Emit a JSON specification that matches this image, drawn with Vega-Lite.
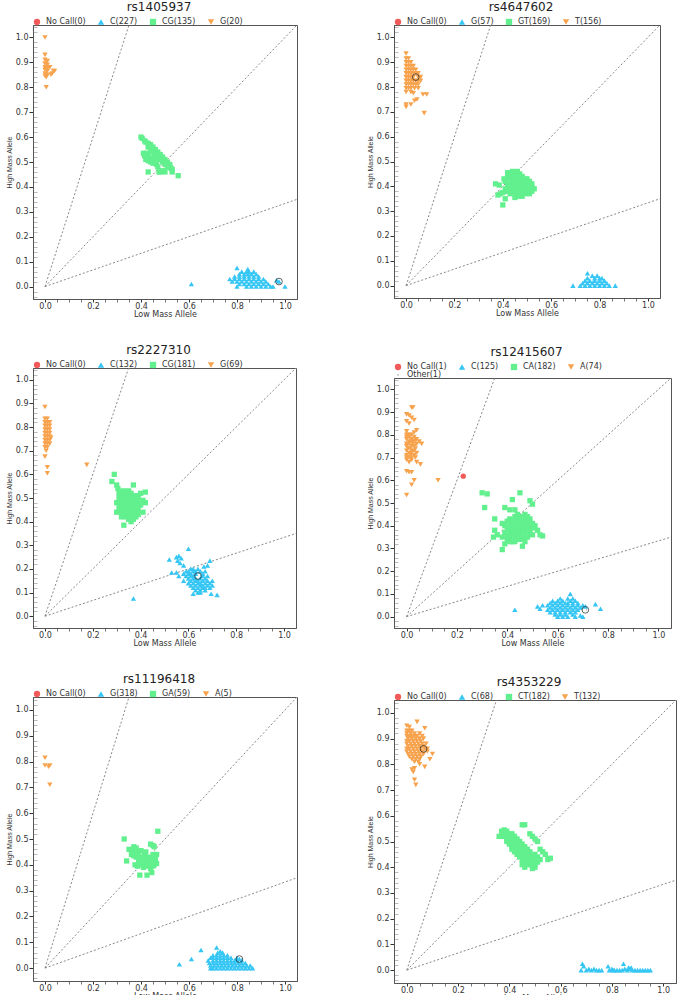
{
"$schema":"https://vega.github.io/schema/vega-lite/v6.json",
"padding":{"left":4,"top":0,"right":0,"bottom":0},
"config":{
 "font":"DejaVu Sans",
 "view":{"stroke":"#555","strokeWidth":1},
 "title":{"fontSize":12,"fontWeight":"normal","color":"#222","offset":0,"font":"DejaVu Sans","dx":-6},
 "axis":{"labelFont":"DejaVu Sans","labelFontSize":8,"labelColor":"#333","titleFont":"DejaVu Sans","titleFontSize":8,"titleFontWeight":"normal","titleColor":"#333","grid":false,"domainColor":"#555","labelOverlap":false,"labelPadding":1,"titlePadding":1,"labelFlush":false},
 "axisX":{"labelPadding":0,"titlePadding":0,"tickSize":3},
 "axisY":{"titleFont":"Liberation Sans","titleFontSize":7,"titlePadding":3},
 "legend":{"orient":"top","direction":"horizontal","labelFontSize":8,"labelColor":"#333","labelFont":"DejaVu Sans","offset":-1,"padding":0,"columnPadding":11,"symbolSize":40,"labelOffset":5,"symbolStrokeWidth":0}
},
"resolve":{"scale":{"color":"independent","shape":"independent"},"legend":{"color":"independent","shape":"independent"}},
"spacing":67,
"hconcat":[
{"spacing":24,"resolve":{"scale":{"color":"independent","shape":"independent"},"legend":{"color":"independent","shape":"independent"}},"vconcat":[
{"width":264,"height":274,"title":"rs1405937",
 "data":{"values":[
{"g":"G(20)","x":0,"y":1},{"g":"G(20)","x":0,"y":0.93},{"g":"G(20)","x":0,"y":0.91},{"g":"G(20)","x":0.01,"y":0.905},{"g":"G(20)","x":0,"y":0.895},{"g":"G(20)","x":0.01,"y":0.89},{"g":"G(20)","x":0,"y":0.88},{"g":"G(20)","x":0.01,"y":0.875},{"g":"G(20)","x":0.02,"y":0.88},{"g":"G(20)","x":0,"y":0.87},{"g":"G(20)","x":0.01,"y":0.865},{"g":"G(20)","x":0.035,"y":0.865},{"g":"G(20)","x":0.04,"y":0.865},{"g":"G(20)","x":0.03,"y":0.855},{"g":"G(20)","x":0.025,"y":0.85},{"g":"G(20)","x":0,"y":0.855},{"g":"G(20)","x":0.01,"y":0.85},{"g":"G(20)","x":0,"y":0.845},{"g":"G(20)","x":0.005,"y":0.84},{"g":"G(20)","x":0.005,"y":0.8},
{"g":"CG(135)","x":0.4,"y":0.6},{"g":"CG(135)","x":0.405,"y":0.595},{"g":"CG(135)","x":0.415,"y":0.585},{"g":"CG(135)","x":0.42,"y":0.58},{"g":"CG(135)","x":0.43,"y":0.575},{"g":"CG(135)","x":0.435,"y":0.565},{"g":"CG(135)","x":0.44,"y":0.56},{"g":"CG(135)","x":0.445,"y":0.555},{"g":"CG(135)","x":0.45,"y":0.55},{"g":"CG(135)","x":0.455,"y":0.545},{"g":"CG(135)","x":0.46,"y":0.54},{"g":"CG(135)","x":0.465,"y":0.535},{"g":"CG(135)","x":0.47,"y":0.53},{"g":"CG(135)","x":0.475,"y":0.525},{"g":"CG(135)","x":0.48,"y":0.52},{"g":"CG(135)","x":0.485,"y":0.515},{"g":"CG(135)","x":0.49,"y":0.51},{"g":"CG(135)","x":0.495,"y":0.505},{"g":"CG(135)","x":0.5,"y":0.5},{"g":"CG(135)","x":0.505,"y":0.495},{"g":"CG(135)","x":0.51,"y":0.49},{"g":"CG(135)","x":0.515,"y":0.485},{"g":"CG(135)","x":0.52,"y":0.48},{"g":"CG(135)","x":0.525,"y":0.475},{"g":"CG(135)","x":0.53,"y":0.47},
{"g":"CG(135)","x":0.44,"y":0.57},{"g":"CG(135)","x":0.45,"y":0.56},{"g":"CG(135)","x":0.46,"y":0.55},{"g":"CG(135)","x":0.47,"y":0.54},{"g":"CG(135)","x":0.48,"y":0.53},{"g":"CG(135)","x":0.49,"y":0.52},{"g":"CG(135)","x":0.5,"y":0.51},{"g":"CG(135)","x":0.51,"y":0.5},{"g":"CG(135)","x":0.52,"y":0.49},{"g":"CG(135)","x":0.43,"y":0.56},{"g":"CG(135)","x":0.44,"y":0.55},{"g":"CG(135)","x":0.45,"y":0.54},{"g":"CG(135)","x":0.46,"y":0.53},{"g":"CG(135)","x":0.47,"y":0.52},{"g":"CG(135)","x":0.48,"y":0.51},{"g":"CG(135)","x":0.49,"y":0.5},{"g":"CG(135)","x":0.5,"y":0.49},{"g":"CG(135)","x":0.51,"y":0.48},
{"g":"CG(135)","x":0.41,"y":0.535},{"g":"CG(135)","x":0.42,"y":0.535},{"g":"CG(135)","x":0.43,"y":0.53},{"g":"CG(135)","x":0.415,"y":0.525},{"g":"CG(135)","x":0.425,"y":0.52},{"g":"CG(135)","x":0.435,"y":0.515},{"g":"CG(135)","x":0.42,"y":0.51},{"g":"CG(135)","x":0.43,"y":0.505},{"g":"CG(135)","x":0.44,"y":0.5},{"g":"CG(135)","x":0.45,"y":0.505},{"g":"CG(135)","x":0.45,"y":0.495},{"g":"CG(135)","x":0.44,"y":0.515},{"g":"CG(135)","x":0.46,"y":0.51},{"g":"CG(135)","x":0.455,"y":0.52},
{"g":"CG(135)","x":0.43,"y":0.46},{"g":"CG(135)","x":0.47,"y":0.48},{"g":"CG(135)","x":0.475,"y":0.46},{"g":"CG(135)","x":0.48,"y":0.46},{"g":"CG(135)","x":0.49,"y":0.465},{"g":"CG(135)","x":0.5,"y":0.46},{"g":"CG(135)","x":0.53,"y":0.46},{"g":"CG(135)","x":0.555,"y":0.445},{"g":"CG(135)","x":0.465,"y":0.49},
{"g":"C(227)","x":0.8,"y":0},{"g":"C(227)","x":0.84,"y":0},{"g":"C(227)","x":0.86,"y":0},{"g":"C(227)","x":0.88,"y":0},{"g":"C(227)","x":0.9,"y":0},{"g":"C(227)","x":0.92,"y":0},{"g":"C(227)","x":0.94,"y":0},{"g":"C(227)","x":0.95,"y":0},
{"g":"C(227)","x":0.81,"y":0.01},{"g":"C(227)","x":0.83,"y":0.01},{"g":"C(227)","x":0.85,"y":0.01},{"g":"C(227)","x":0.87,"y":0.01},{"g":"C(227)","x":0.89,"y":0.01},{"g":"C(227)","x":0.91,"y":0.01},{"g":"C(227)","x":0.93,"y":0.01},
{"g":"C(227)","x":0.78,"y":0.02},{"g":"C(227)","x":0.8,"y":0.02},{"g":"C(227)","x":0.82,"y":0.02},{"g":"C(227)","x":0.84,"y":0.02},{"g":"C(227)","x":0.86,"y":0.02},{"g":"C(227)","x":0.88,"y":0.02},{"g":"C(227)","x":0.9,"y":0.02},{"g":"C(227)","x":0.92,"y":0.02},
{"g":"C(227)","x":0.77,"y":0.03},{"g":"C(227)","x":0.79,"y":0.03},{"g":"C(227)","x":0.81,"y":0.03},{"g":"C(227)","x":0.83,"y":0.03},{"g":"C(227)","x":0.85,"y":0.03},{"g":"C(227)","x":0.87,"y":0.03},{"g":"C(227)","x":0.89,"y":0.03},{"g":"C(227)","x":0.91,"y":0.03},
{"g":"C(227)","x":0.79,"y":0.04},{"g":"C(227)","x":0.81,"y":0.04},{"g":"C(227)","x":0.83,"y":0.04},{"g":"C(227)","x":0.85,"y":0.04},{"g":"C(227)","x":0.87,"y":0.04},{"g":"C(227)","x":0.89,"y":0.04},
{"g":"C(227)","x":0.81,"y":0.05},{"g":"C(227)","x":0.83,"y":0.05},{"g":"C(227)","x":0.845,"y":0.05},{"g":"C(227)","x":0.86,"y":0.05},{"g":"C(227)","x":0.88,"y":0.05},
{"g":"C(227)","x":0.82,"y":0.06},{"g":"C(227)","x":0.84,"y":0.06},{"g":"C(227)","x":0.85,"y":0.06},{"g":"C(227)","x":0.87,"y":0.06},
{"g":"C(227)","x":0.8,"y":0.075},{"g":"C(227)","x":0.845,"y":0.07},
{"g":"C(227)","x":0.61,"y":0.01},{"g":"C(227)","x":1,"y":0},{"g":"C(227)","x":0.975,"y":0.02},{"g":"C(227)","x":0.965,"y":0.025}
 ]},
 "encoding":{
  "x":{"field":"x","type":"quantitative","scale":{"domain":[-0.05,1.05],"nice":false,"zero":false},"axis":{"title":"Low Mass Allele","values":[0,0.05,0.1,0.15,0.2,0.25,0.3,0.35,0.4,0.45,0.5,0.55,0.6,0.65,0.7,0.75,0.8,0.85,0.9,0.95,1],"labelExpr":"abs(datum.value*5-round(datum.value*5))<0.001 ? format(datum.value,'.1f') : ''","tickColor":{"condition":{"test":"abs(datum.value*5-round(datum.value*5))<0.001","value":"#333"},"value":"#777"}}},
  "y":{"field":"y","type":"quantitative","scale":{"domain":[-0.05,1.05],"nice":false,"zero":false},"axis":{"title":"High Mass Allele","values":[-0.04,-0.02,0,0.02,0.04,0.06,0.08,0.1,0.12,0.14,0.16,0.18,0.2,0.22,0.24,0.26,0.28,0.3,0.32,0.34,0.36,0.38,0.4,0.42,0.44,0.46,0.48,0.5,0.52,0.54,0.56,0.58,0.6,0.62,0.64,0.66,0.68,0.7,0.72,0.74,0.76,0.78,0.8,0.82,0.84,0.86,0.88,0.9,0.92,0.94,0.96,0.98,1,1.02,1.04],"labelExpr":"abs(datum.value*10-round(datum.value*10))<0.001 ? format(datum.value,'.1f') : ''","tickColor":{"condition":{"test":"abs(datum.value*10-round(datum.value*10))<0.001","value":"#333"},"value":"#bbb"},"tickSize":{"condition":{"test":"abs(datum.value*10-round(datum.value*10))<0.001","value":4},"value":-4}}}
 },
 "layer":[
  {"data":{"values":[{"x":0,"y":0,"x2":0.35,"y2":1.05},{"x":0,"y":0,"x2":1.05,"y2":1.05},{"x":0,"y":0,"x2":1.05,"y2":0.35}]},"mark":{"type":"rule","color":"#888","strokeDash":[2,2],"strokeWidth":1},"encoding":{"x2":{"field":"x2"},"y2":{"field":"y2"}}},
  {"mark":{"type":"point","filled":true,"opacity":1,"size":28},"encoding":{
   "color":{"field":"g","type":"nominal","scale":{"domain":["No Call(0)","C(227)","CG(135)","G(20)"],"range":["#f25a5a","#35c6f4","#62f08e","#f7a24c"]},"legend":{"title":null}},
   "shape":{"field":"g","type":"nominal","scale":{"domain":["No Call(0)","C(227)","CG(135)","G(20)"],"range":["circle","triangle-up","square","triangle-down"]},"legend":{"title":null}}}},
  {"data":{"values":[{"x":0.975,"y":0.02}]},"mark":{"type":"point","shape":"circle","filled":false,"color":"#222","size":45,"strokeWidth":1}}
 ]},
{"width":263,"height":260,"title":"rs2227310",
 "data":{"values":[
{"g":"G(69)","x":0,"y":0.885},{"g":"G(69)","x":0,"y":0.835},{"g":"G(69)","x":0.01,"y":0.835},{"g":"G(69)","x":0,"y":0.82},{"g":"G(69)","x":0.01,"y":0.82},{"g":"G(69)","x":0.02,"y":0.82},{"g":"G(69)","x":0,"y":0.805},{"g":"G(69)","x":0.01,"y":0.805},{"g":"G(69)","x":0.02,"y":0.805},{"g":"G(69)","x":0,"y":0.79},{"g":"G(69)","x":0.01,"y":0.79},{"g":"G(69)","x":0.02,"y":0.79},{"g":"G(69)","x":0,"y":0.775},{"g":"G(69)","x":0.01,"y":0.775},{"g":"G(69)","x":0.02,"y":0.775},{"g":"G(69)","x":0,"y":0.76},{"g":"G(69)","x":0.01,"y":0.76},{"g":"G(69)","x":0.02,"y":0.76},{"g":"G(69)","x":0.025,"y":0.755},{"g":"G(69)","x":0,"y":0.745},{"g":"G(69)","x":0.01,"y":0.745},{"g":"G(69)","x":0.02,"y":0.745},{"g":"G(69)","x":0,"y":0.73},{"g":"G(69)","x":0.01,"y":0.73},{"g":"G(69)","x":0.02,"y":0.73},{"g":"G(69)","x":0,"y":0.715},{"g":"G(69)","x":0.01,"y":0.715},{"g":"G(69)","x":0.005,"y":0.7},{"g":"G(69)","x":0,"y":0.675},{"g":"G(69)","x":0.01,"y":0.63},{"g":"G(69)","x":0.01,"y":0.605},{"g":"G(69)","x":0.175,"y":0.64},
{"g":"CG(181)","x":0.29,"y":0.6},{"g":"CG(181)","x":0.28,"y":0.57},{"g":"CG(181)","x":0.3,"y":0.555},{"g":"CG(181)","x":0.37,"y":0.555},{"g":"CG(181)","x":0.305,"y":0.54},
{"g":"CG(181)","x":0.31,"y":0.53},{"g":"CG(181)","x":0.33,"y":0.53},{"g":"CG(181)","x":0.35,"y":0.53},
{"g":"CG(181)","x":0.32,"y":0.52},{"g":"CG(181)","x":0.34,"y":0.52},{"g":"CG(181)","x":0.36,"y":0.52},{"g":"CG(181)","x":0.4,"y":0.52},{"g":"CG(181)","x":0.42,"y":0.525},
{"g":"CG(181)","x":0.31,"y":0.51},{"g":"CG(181)","x":0.33,"y":0.51},{"g":"CG(181)","x":0.35,"y":0.51},{"g":"CG(181)","x":0.37,"y":0.51},{"g":"CG(181)","x":0.39,"y":0.51},
{"g":"CG(181)","x":0.32,"y":0.5},{"g":"CG(181)","x":0.34,"y":0.5},{"g":"CG(181)","x":0.36,"y":0.5},{"g":"CG(181)","x":0.38,"y":0.5},
{"g":"CG(181)","x":0.31,"y":0.49},{"g":"CG(181)","x":0.33,"y":0.49},{"g":"CG(181)","x":0.35,"y":0.49},{"g":"CG(181)","x":0.37,"y":0.49},{"g":"CG(181)","x":0.39,"y":0.49},{"g":"CG(181)","x":0.41,"y":0.49},
{"g":"CG(181)","x":0.3,"y":0.48},{"g":"CG(181)","x":0.32,"y":0.48},{"g":"CG(181)","x":0.34,"y":0.48},{"g":"CG(181)","x":0.36,"y":0.48},{"g":"CG(181)","x":0.38,"y":0.48},{"g":"CG(181)","x":0.42,"y":0.48},
{"g":"CG(181)","x":0.31,"y":0.47},{"g":"CG(181)","x":0.33,"y":0.47},{"g":"CG(181)","x":0.35,"y":0.47},{"g":"CG(181)","x":0.37,"y":0.47},{"g":"CG(181)","x":0.4,"y":0.47},
{"g":"CG(181)","x":0.32,"y":0.46},{"g":"CG(181)","x":0.34,"y":0.46},{"g":"CG(181)","x":0.36,"y":0.46},{"g":"CG(181)","x":0.38,"y":0.46},
{"g":"CG(181)","x":0.31,"y":0.45},{"g":"CG(181)","x":0.33,"y":0.45},{"g":"CG(181)","x":0.35,"y":0.45},{"g":"CG(181)","x":0.37,"y":0.45},{"g":"CG(181)","x":0.39,"y":0.45},
{"g":"CG(181)","x":0.3,"y":0.44},{"g":"CG(181)","x":0.32,"y":0.44},{"g":"CG(181)","x":0.34,"y":0.44},{"g":"CG(181)","x":0.36,"y":0.44},{"g":"CG(181)","x":0.38,"y":0.44},{"g":"CG(181)","x":0.41,"y":0.44},
{"g":"CG(181)","x":0.33,"y":0.43},{"g":"CG(181)","x":0.35,"y":0.43},{"g":"CG(181)","x":0.37,"y":0.43},{"g":"CG(181)","x":0.39,"y":0.43},
{"g":"CG(181)","x":0.32,"y":0.42},{"g":"CG(181)","x":0.34,"y":0.42},{"g":"CG(181)","x":0.36,"y":0.42},{"g":"CG(181)","x":0.38,"y":0.42},
{"g":"CG(181)","x":0.35,"y":0.41},{"g":"CG(181)","x":0.37,"y":0.41},{"g":"CG(181)","x":0.36,"y":0.4},{"g":"CG(181)","x":0.33,"y":0.385},
{"g":"C(132)","x":0.6,"y":0.285},{"g":"C(132)","x":0.52,"y":0.24},{"g":"C(132)","x":0.55,"y":0.25},{"g":"C(132)","x":0.56,"y":0.255},{"g":"C(132)","x":0.57,"y":0.245},{"g":"C(132)","x":0.555,"y":0.235},{"g":"C(132)","x":0.565,"y":0.225},{"g":"C(132)","x":0.58,"y":0.215},{"g":"C(132)","x":0.53,"y":0.185},{"g":"C(132)","x":0.55,"y":0.185},{"g":"C(132)","x":0.56,"y":0.17},{"g":"C(132)","x":0.69,"y":0.235},{"g":"C(132)","x":0.68,"y":0.215},{"g":"C(132)","x":0.665,"y":0.21},{"g":"C(132)","x":0.37,"y":0.075},{"g":"C(132)","x":0.72,"y":0.09},{"g":"C(132)","x":0.695,"y":0.095},{"g":"C(132)","x":0.62,"y":0.095},{"g":"C(132)","x":0.65,"y":0.1},
{"g":"C(132)","x":0.61,"y":0.2},{"g":"C(132)","x":0.62,"y":0.2},{"g":"C(132)","x":0.64,"y":0.2},
{"g":"C(132)","x":0.59,"y":0.19},{"g":"C(132)","x":0.6,"y":0.19},{"g":"C(132)","x":0.62,"y":0.19},{"g":"C(132)","x":0.63,"y":0.19},{"g":"C(132)","x":0.65,"y":0.19},{"g":"C(132)","x":0.67,"y":0.19},
{"g":"C(132)","x":0.58,"y":0.18},{"g":"C(132)","x":0.6,"y":0.18},{"g":"C(132)","x":0.61,"y":0.18},{"g":"C(132)","x":0.63,"y":0.18},{"g":"C(132)","x":0.66,"y":0.18},
{"g":"C(132)","x":0.59,"y":0.17},{"g":"C(132)","x":0.61,"y":0.17},{"g":"C(132)","x":0.62,"y":0.17},{"g":"C(132)","x":0.66,"y":0.17},{"g":"C(132)","x":0.68,"y":0.17},
{"g":"C(132)","x":0.6,"y":0.16},{"g":"C(132)","x":0.62,"y":0.16},{"g":"C(132)","x":0.63,"y":0.16},{"g":"C(132)","x":0.65,"y":0.16},{"g":"C(132)","x":0.67,"y":0.16},
{"g":"C(132)","x":0.58,"y":0.15},{"g":"C(132)","x":0.61,"y":0.15},{"g":"C(132)","x":0.63,"y":0.15},{"g":"C(132)","x":0.64,"y":0.15},{"g":"C(132)","x":0.66,"y":0.15},{"g":"C(132)","x":0.68,"y":0.15},{"g":"C(132)","x":0.7,"y":0.15},
{"g":"C(132)","x":0.6,"y":0.14},{"g":"C(132)","x":0.62,"y":0.14},{"g":"C(132)","x":0.64,"y":0.14},{"g":"C(132)","x":0.65,"y":0.14},{"g":"C(132)","x":0.67,"y":0.14},{"g":"C(132)","x":0.69,"y":0.14},
{"g":"C(132)","x":0.61,"y":0.13},{"g":"C(132)","x":0.63,"y":0.13},{"g":"C(132)","x":0.65,"y":0.13},{"g":"C(132)","x":0.66,"y":0.13},{"g":"C(132)","x":0.68,"y":0.13},{"g":"C(132)","x":0.7,"y":0.13},
{"g":"C(132)","x":0.62,"y":0.12},{"g":"C(132)","x":0.64,"y":0.12},{"g":"C(132)","x":0.66,"y":0.12},{"g":"C(132)","x":0.67,"y":0.12},{"g":"C(132)","x":0.69,"y":0.12},
{"g":"C(132)","x":0.63,"y":0.11},{"g":"C(132)","x":0.65,"y":0.11},{"g":"C(132)","x":0.67,"y":0.11},{"g":"C(132)","x":0.64,"y":0.1}
 ]},
 "encoding":{
  "x":{"field":"x","type":"quantitative","scale":{"domain":[-0.05,1.05],"nice":false,"zero":false},"axis":{"title":"Low Mass Allele","values":[0,0.05,0.1,0.15,0.2,0.25,0.3,0.35,0.4,0.45,0.5,0.55,0.6,0.65,0.7,0.75,0.8,0.85,0.9,0.95,1],"labelExpr":"abs(datum.value*5-round(datum.value*5))<0.001 ? format(datum.value,'.1f') : ''","tickColor":{"condition":{"test":"abs(datum.value*5-round(datum.value*5))<0.001","value":"#333"},"value":"#777"}}},
  "y":{"field":"y","type":"quantitative","scale":{"domain":[-0.05,1.05],"nice":false,"zero":false},"axis":{"title":"High Mass Allele","values":[-0.04,-0.02,0,0.02,0.04,0.06,0.08,0.1,0.12,0.14,0.16,0.18,0.2,0.22,0.24,0.26,0.28,0.3,0.32,0.34,0.36,0.38,0.4,0.42,0.44,0.46,0.48,0.5,0.52,0.54,0.56,0.58,0.6,0.62,0.64,0.66,0.68,0.7,0.72,0.74,0.76,0.78,0.8,0.82,0.84,0.86,0.88,0.9,0.92,0.94,0.96,0.98,1,1.02,1.04],"labelExpr":"abs(datum.value*10-round(datum.value*10))<0.001 ? format(datum.value,'.1f') : ''","tickColor":{"condition":{"test":"abs(datum.value*10-round(datum.value*10))<0.001","value":"#333"},"value":"#bbb"},"tickSize":{"condition":{"test":"abs(datum.value*10-round(datum.value*10))<0.001","value":4},"value":-4}}}
 },
 "layer":[
  {"data":{"values":[{"x":0,"y":0,"x2":0.35,"y2":1.05},{"x":0,"y":0,"x2":1.05,"y2":1.05},{"x":0,"y":0,"x2":1.05,"y2":0.35}]},"mark":{"type":"rule","color":"#888","strokeDash":[2,2],"strokeWidth":1},"encoding":{"x2":{"field":"x2"},"y2":{"field":"y2"}}},
  {"mark":{"type":"point","filled":true,"opacity":1,"size":28},"encoding":{
   "color":{"field":"g","type":"nominal","scale":{"domain":["No Call(0)","C(132)","CG(181)","G(69)"],"range":["#f25a5a","#35c6f4","#62f08e","#f7a24c"]},"legend":{"title":null}},
   "shape":{"field":"g","type":"nominal","scale":{"domain":["No Call(0)","C(132)","CG(181)","G(69)"],"range":["circle","triangle-up","square","triangle-down"]},"legend":{"title":null}}}},
  {"data":{"values":[{"x":0.64,"y":0.17}]},"mark":{"type":"point","shape":"circle","filled":false,"color":"#222","size":45,"strokeWidth":1}}
 ]},
{"width":264,"height":284,"title":"rs11196418",
 "data":{"values":[
{"g":"A(5)","x":0,"y":0.815},{"g":"A(5)","x":0,"y":0.785},{"g":"A(5)","x":0.015,"y":0.78},{"g":"A(5)","x":0.02,"y":0.785},{"g":"A(5)","x":0.02,"y":0.71},
{"g":"GA(59)","x":0.33,"y":0.5},{"g":"GA(59)","x":0.47,"y":0.53},{"g":"GA(59)","x":0.35,"y":0.46},{"g":"GA(59)","x":0.37,"y":0.47},{"g":"GA(59)","x":0.38,"y":0.465},{"g":"GA(59)","x":0.38,"y":0.455},{"g":"GA(59)","x":0.39,"y":0.45},{"g":"GA(59)","x":0.4,"y":0.455},{"g":"GA(59)","x":0.415,"y":0.44},{"g":"GA(59)","x":0.44,"y":0.48},{"g":"GA(59)","x":0.45,"y":0.475},{"g":"GA(59)","x":0.455,"y":0.47},{"g":"GA(59)","x":0.45,"y":0.44},{"g":"GA(59)","x":0.465,"y":0.44},{"g":"GA(59)","x":0.36,"y":0.44},{"g":"GA(59)","x":0.37,"y":0.435},{"g":"GA(59)","x":0.38,"y":0.43},{"g":"GA(59)","x":0.39,"y":0.43},{"g":"GA(59)","x":0.4,"y":0.42},{"g":"GA(59)","x":0.41,"y":0.43},{"g":"GA(59)","x":0.42,"y":0.42},{"g":"GA(59)","x":0.43,"y":0.415},{"g":"GA(59)","x":0.44,"y":0.42},{"g":"GA(59)","x":0.45,"y":0.41},{"g":"GA(59)","x":0.46,"y":0.42},{"g":"GA(59)","x":0.34,"y":0.415},{"g":"GA(59)","x":0.375,"y":0.4},{"g":"GA(59)","x":0.385,"y":0.395},{"g":"GA(59)","x":0.4,"y":0.4},{"g":"GA(59)","x":0.41,"y":0.39},{"g":"GA(59)","x":0.42,"y":0.4},{"g":"GA(59)","x":0.43,"y":0.395},{"g":"GA(59)","x":0.44,"y":0.385},{"g":"GA(59)","x":0.45,"y":0.395},{"g":"GA(59)","x":0.455,"y":0.4},{"g":"GA(59)","x":0.395,"y":0.36},{"g":"GA(59)","x":0.425,"y":0.36},{"g":"GA(59)","x":0.445,"y":0.37},{"g":"GA(59)","x":0.4,"y":0.41},{"g":"GA(59)","x":0.39,"y":0.415},{"g":"GA(59)","x":0.43,"y":0.43},{"g":"GA(59)","x":0.42,"y":0.45},{"g":"GA(59)","x":0.365,"y":0.455},{"g":"GA(59)","x":0.385,"y":0.44},{"g":"GA(59)","x":0.41,"y":0.405},{"g":"GA(59)","x":0.435,"y":0.405},{"g":"GA(59)","x":0.465,"y":0.405},
{"g":"G(318)","x":0.56,"y":0.015},{"g":"G(318)","x":0.61,"y":0.035},{"g":"G(318)","x":0.65,"y":0.07},{"g":"G(318)","x":0.715,"y":0.08},{"g":"G(318)","x":0.69,"y":0},
{"g":"G(318)","x":0.72,"y":0.06},{"g":"G(318)","x":0.73,"y":0.065},{"g":"G(318)","x":0.74,"y":0.06},
{"g":"G(318)","x":0.7,"y":0.05},{"g":"G(318)","x":0.715,"y":0.05},{"g":"G(318)","x":0.73,"y":0.05},{"g":"G(318)","x":0.745,"y":0.05},{"g":"G(318)","x":0.76,"y":0.05},
{"g":"G(318)","x":0.69,"y":0.04},{"g":"G(318)","x":0.7,"y":0.04},{"g":"G(318)","x":0.715,"y":0.04},{"g":"G(318)","x":0.73,"y":0.04},{"g":"G(318)","x":0.745,"y":0.04},{"g":"G(318)","x":0.76,"y":0.04},{"g":"G(318)","x":0.775,"y":0.04},{"g":"G(318)","x":0.8,"y":0.04},
{"g":"G(318)","x":0.68,"y":0.03},{"g":"G(318)","x":0.7,"y":0.03},{"g":"G(318)","x":0.715,"y":0.03},{"g":"G(318)","x":0.73,"y":0.03},{"g":"G(318)","x":0.745,"y":0.03},{"g":"G(318)","x":0.76,"y":0.03},{"g":"G(318)","x":0.775,"y":0.03},{"g":"G(318)","x":0.79,"y":0.03},{"g":"G(318)","x":0.8,"y":0.03},{"g":"G(318)","x":0.82,"y":0.03},
{"g":"G(318)","x":0.685,"y":0.02},{"g":"G(318)","x":0.7,"y":0.02},{"g":"G(318)","x":0.715,"y":0.02},{"g":"G(318)","x":0.73,"y":0.02},{"g":"G(318)","x":0.745,"y":0.02},{"g":"G(318)","x":0.76,"y":0.02},{"g":"G(318)","x":0.775,"y":0.02},{"g":"G(318)","x":0.79,"y":0.02},{"g":"G(318)","x":0.805,"y":0.02},{"g":"G(318)","x":0.82,"y":0.02},{"g":"G(318)","x":0.835,"y":0.02},
{"g":"G(318)","x":0.69,"y":0.01},{"g":"G(318)","x":0.705,"y":0.01},{"g":"G(318)","x":0.72,"y":0.01},{"g":"G(318)","x":0.735,"y":0.01},{"g":"G(318)","x":0.75,"y":0.01},{"g":"G(318)","x":0.765,"y":0.01},{"g":"G(318)","x":0.78,"y":0.01},{"g":"G(318)","x":0.795,"y":0.01},{"g":"G(318)","x":0.81,"y":0.01},{"g":"G(318)","x":0.825,"y":0.01},{"g":"G(318)","x":0.84,"y":0.01},{"g":"G(318)","x":0.855,"y":0.01},
{"g":"G(318)","x":0.7,"y":0},{"g":"G(318)","x":0.715,"y":0},{"g":"G(318)","x":0.73,"y":0},{"g":"G(318)","x":0.745,"y":0},{"g":"G(318)","x":0.76,"y":0},{"g":"G(318)","x":0.775,"y":0},{"g":"G(318)","x":0.79,"y":0},{"g":"G(318)","x":0.805,"y":0},{"g":"G(318)","x":0.82,"y":0},{"g":"G(318)","x":0.835,"y":0},{"g":"G(318)","x":0.85,"y":0},{"g":"G(318)","x":0.865,"y":0},{"g":"G(318)","x":0.81,"y":0.035}
 ]},
 "encoding":{
  "x":{"field":"x","type":"quantitative","scale":{"domain":[-0.05,1.05],"nice":false,"zero":false},"axis":{"title":"Low Mass Allele","values":[0,0.05,0.1,0.15,0.2,0.25,0.3,0.35,0.4,0.45,0.5,0.55,0.6,0.65,0.7,0.75,0.8,0.85,0.9,0.95,1],"labelExpr":"abs(datum.value*5-round(datum.value*5))<0.001 ? format(datum.value,'.1f') : ''","tickColor":{"condition":{"test":"abs(datum.value*5-round(datum.value*5))<0.001","value":"#333"},"value":"#777"}}},
  "y":{"field":"y","type":"quantitative","scale":{"domain":[-0.05,1.05],"nice":false,"zero":false},"axis":{"title":"High Mass Allele","values":[-0.04,-0.02,0,0.02,0.04,0.06,0.08,0.1,0.12,0.14,0.16,0.18,0.2,0.22,0.24,0.26,0.28,0.3,0.32,0.34,0.36,0.38,0.4,0.42,0.44,0.46,0.48,0.5,0.52,0.54,0.56,0.58,0.6,0.62,0.64,0.66,0.68,0.7,0.72,0.74,0.76,0.78,0.8,0.82,0.84,0.86,0.88,0.9,0.92,0.94,0.96,0.98,1,1.02,1.04],"labelExpr":"abs(datum.value*10-round(datum.value*10))<0.001 ? format(datum.value,'.1f') : ''","tickColor":{"condition":{"test":"abs(datum.value*10-round(datum.value*10))<0.001","value":"#333"},"value":"#bbb"},"tickSize":{"condition":{"test":"abs(datum.value*10-round(datum.value*10))<0.001","value":4},"value":-4}}}
 },
 "layer":[
  {"data":{"values":[{"x":0,"y":0,"x2":0.35,"y2":1.05},{"x":0,"y":0,"x2":1.05,"y2":1.05},{"x":0,"y":0,"x2":1.05,"y2":0.35}]},"mark":{"type":"rule","color":"#888","strokeDash":[2,2],"strokeWidth":1},"encoding":{"x2":{"field":"x2"},"y2":{"field":"y2"}}},
  {"mark":{"type":"point","filled":true,"opacity":1,"size":28},"encoding":{
   "color":{"field":"g","type":"nominal","scale":{"domain":["No Call(0)","G(318)","GA(59)","A(5)"],"range":["#f25a5a","#35c6f4","#62f08e","#f7a24c"]},"legend":{"title":null}},
   "shape":{"field":"g","type":"nominal","scale":{"domain":["No Call(0)","G(318)","GA(59)","A(5)"],"range":["circle","triangle-up","square","triangle-down"]},"legend":{"title":null}}}},
  {"data":{"values":[{"x":0.81,"y":0.035}]},"mark":{"type":"point","shape":"circle","filled":false,"color":"#222","size":45,"strokeWidth":1}}
 ]}
]},
{"spacing":27,"resolve":{"scale":{"color":"independent","shape":"independent"},"legend":{"color":"independent","shape":"independent"}},"vconcat":[
{"width":266,"height":273,"title":"rs4647602",
 "data":{"values":[
{"g":"T(156)","x":0,"y":0.935},{"g":"T(156)","x":0,"y":0.915},{"g":"T(156)","x":0.01,"y":0.915},{"g":"T(156)","x":0,"y":0.9},{"g":"T(156)","x":0.01,"y":0.9},{"g":"T(156)","x":0.02,"y":0.9},{"g":"T(156)","x":0,"y":0.885},{"g":"T(156)","x":0.01,"y":0.885},{"g":"T(156)","x":0.02,"y":0.885},{"g":"T(156)","x":0.03,"y":0.885},
{"g":"T(156)","x":0,"y":0.87},{"g":"T(156)","x":0.01,"y":0.87},{"g":"T(156)","x":0.02,"y":0.87},{"g":"T(156)","x":0.03,"y":0.87},{"g":"T(156)","x":0.04,"y":0.87},
{"g":"T(156)","x":0,"y":0.855},{"g":"T(156)","x":0.01,"y":0.855},{"g":"T(156)","x":0.02,"y":0.855},{"g":"T(156)","x":0.03,"y":0.855},{"g":"T(156)","x":0.04,"y":0.855},{"g":"T(156)","x":0.05,"y":0.855},
{"g":"T(156)","x":0,"y":0.84},{"g":"T(156)","x":0.01,"y":0.84},{"g":"T(156)","x":0.02,"y":0.84},{"g":"T(156)","x":0.03,"y":0.84},{"g":"T(156)","x":0.05,"y":0.84},{"g":"T(156)","x":0.06,"y":0.84},
{"g":"T(156)","x":0,"y":0.825},{"g":"T(156)","x":0.01,"y":0.825},{"g":"T(156)","x":0.02,"y":0.825},{"g":"T(156)","x":0.03,"y":0.825},{"g":"T(156)","x":0.04,"y":0.825},{"g":"T(156)","x":0.05,"y":0.825},{"g":"T(156)","x":0.06,"y":0.825},
{"g":"T(156)","x":0,"y":0.81},{"g":"T(156)","x":0.01,"y":0.81},{"g":"T(156)","x":0.02,"y":0.81},{"g":"T(156)","x":0.03,"y":0.81},{"g":"T(156)","x":0.04,"y":0.81},{"g":"T(156)","x":0.05,"y":0.81},
{"g":"T(156)","x":0,"y":0.795},{"g":"T(156)","x":0.01,"y":0.795},{"g":"T(156)","x":0.02,"y":0.795},{"g":"T(156)","x":0.035,"y":0.795},{"g":"T(156)","x":0.05,"y":0.795},
{"g":"T(156)","x":0,"y":0.78},{"g":"T(156)","x":0.02,"y":0.78},{"g":"T(156)","x":0.03,"y":0.775},
{"g":"T(156)","x":0.07,"y":0.77},{"g":"T(156)","x":0.085,"y":0.77},{"g":"T(156)","x":0,"y":0.72},{"g":"T(156)","x":0,"y":0.73},{"g":"T(156)","x":0.02,"y":0.73},{"g":"T(156)","x":0.035,"y":0.745},{"g":"T(156)","x":0.045,"y":0.75},{"g":"T(156)","x":0.075,"y":0.695},
{"g":"GT(169)","x":0.44,"y":0.46},{"g":"GT(169)","x":0.46,"y":0.46},{"g":"GT(169)","x":0.43,"y":0.45},{"g":"GT(169)","x":0.45,"y":0.45},{"g":"GT(169)","x":0.47,"y":0.45},
{"g":"GT(169)","x":0.42,"y":0.44},{"g":"GT(169)","x":0.44,"y":0.44},{"g":"GT(169)","x":0.46,"y":0.44},{"g":"GT(169)","x":0.48,"y":0.44},
{"g":"GT(169)","x":0.43,"y":0.43},{"g":"GT(169)","x":0.45,"y":0.43},{"g":"GT(169)","x":0.47,"y":0.43},{"g":"GT(169)","x":0.49,"y":0.43},{"g":"GT(169)","x":0.5,"y":0.43},
{"g":"GT(169)","x":0.41,"y":0.42},{"g":"GT(169)","x":0.44,"y":0.42},{"g":"GT(169)","x":0.46,"y":0.42},{"g":"GT(169)","x":0.48,"y":0.42},{"g":"GT(169)","x":0.5,"y":0.42},{"g":"GT(169)","x":0.51,"y":0.42},
{"g":"GT(169)","x":0.43,"y":0.41},{"g":"GT(169)","x":0.45,"y":0.41},{"g":"GT(169)","x":0.47,"y":0.41},{"g":"GT(169)","x":0.49,"y":0.41},{"g":"GT(169)","x":0.51,"y":0.41},{"g":"GT(169)","x":0.52,"y":0.41},
{"g":"GT(169)","x":0.42,"y":0.4},{"g":"GT(169)","x":0.44,"y":0.4},{"g":"GT(169)","x":0.46,"y":0.4},{"g":"GT(169)","x":0.48,"y":0.4},{"g":"GT(169)","x":0.5,"y":0.4},{"g":"GT(169)","x":0.52,"y":0.4},
{"g":"GT(169)","x":0.41,"y":0.39},{"g":"GT(169)","x":0.43,"y":0.39},{"g":"GT(169)","x":0.45,"y":0.39},{"g":"GT(169)","x":0.47,"y":0.39},{"g":"GT(169)","x":0.49,"y":0.39},{"g":"GT(169)","x":0.51,"y":0.39},{"g":"GT(169)","x":0.53,"y":0.39},
{"g":"GT(169)","x":0.42,"y":0.38},{"g":"GT(169)","x":0.44,"y":0.38},{"g":"GT(169)","x":0.46,"y":0.38},{"g":"GT(169)","x":0.48,"y":0.38},{"g":"GT(169)","x":0.5,"y":0.38},{"g":"GT(169)","x":0.52,"y":0.38},
{"g":"GT(169)","x":0.43,"y":0.37},{"g":"GT(169)","x":0.45,"y":0.37},{"g":"GT(169)","x":0.47,"y":0.37},{"g":"GT(169)","x":0.49,"y":0.37},{"g":"GT(169)","x":0.51,"y":0.37},
{"g":"GT(169)","x":0.46,"y":0.36},{"g":"GT(169)","x":0.48,"y":0.36},
{"g":"GT(169)","x":0.37,"y":0.41},{"g":"GT(169)","x":0.385,"y":0.405},{"g":"GT(169)","x":0.39,"y":0.37},{"g":"GT(169)","x":0.4,"y":0.375},{"g":"GT(169)","x":0.38,"y":0.365},{"g":"GT(169)","x":0.41,"y":0.35},{"g":"GT(169)","x":0.4,"y":0.325},{"g":"GT(169)","x":0.45,"y":0.355},{"g":"GT(169)","x":0.405,"y":0.43},{"g":"GT(169)","x":0.42,"y":0.455},
{"g":"G(57)","x":0.69,"y":0},{"g":"G(57)","x":0.72,"y":0},{"g":"G(57)","x":0.74,"y":0},{"g":"G(57)","x":0.76,"y":0},{"g":"G(57)","x":0.78,"y":0},{"g":"G(57)","x":0.8,"y":0},{"g":"G(57)","x":0.82,"y":0},{"g":"G(57)","x":0.84,"y":0},{"g":"G(57)","x":0.865,"y":0},
{"g":"G(57)","x":0.73,"y":0.01},{"g":"G(57)","x":0.75,"y":0.01},{"g":"G(57)","x":0.77,"y":0.01},{"g":"G(57)","x":0.79,"y":0.01},{"g":"G(57)","x":0.81,"y":0.01},{"g":"G(57)","x":0.83,"y":0.01},
{"g":"G(57)","x":0.74,"y":0.02},{"g":"G(57)","x":0.76,"y":0.02},{"g":"G(57)","x":0.78,"y":0.02},{"g":"G(57)","x":0.8,"y":0.02},{"g":"G(57)","x":0.82,"y":0.02},
{"g":"G(57)","x":0.75,"y":0.03},{"g":"G(57)","x":0.78,"y":0.03},{"g":"G(57)","x":0.8,"y":0.03},{"g":"G(57)","x":0.81,"y":0.03},{"g":"G(57)","x":0.77,"y":0.04},{"g":"G(57)","x":0.79,"y":0.04},{"g":"G(57)","x":0.75,"y":0.05}
 ]},
 "encoding":{
  "x":{"field":"x","type":"quantitative","scale":{"domain":[-0.05,1.05],"nice":false,"zero":false},"axis":{"title":"Low Mass Allele","values":[0,0.05,0.1,0.15,0.2,0.25,0.3,0.35,0.4,0.45,0.5,0.55,0.6,0.65,0.7,0.75,0.8,0.85,0.9,0.95,1],"labelExpr":"abs(datum.value*5-round(datum.value*5))<0.001 ? format(datum.value,'.1f') : ''","tickColor":{"condition":{"test":"abs(datum.value*5-round(datum.value*5))<0.001","value":"#333"},"value":"#777"}}},
  "y":{"field":"y","type":"quantitative","scale":{"domain":[-0.05,1.05],"nice":false,"zero":false},"axis":{"title":"High Mass Allele","values":[-0.04,-0.02,0,0.02,0.04,0.06,0.08,0.1,0.12,0.14,0.16,0.18,0.2,0.22,0.24,0.26,0.28,0.3,0.32,0.34,0.36,0.38,0.4,0.42,0.44,0.46,0.48,0.5,0.52,0.54,0.56,0.58,0.6,0.62,0.64,0.66,0.68,0.7,0.72,0.74,0.76,0.78,0.8,0.82,0.84,0.86,0.88,0.9,0.92,0.94,0.96,0.98,1,1.02,1.04],"labelExpr":"abs(datum.value*10-round(datum.value*10))<0.001 ? format(datum.value,'.1f') : ''","tickColor":{"condition":{"test":"abs(datum.value*10-round(datum.value*10))<0.001","value":"#333"},"value":"#bbb"},"tickSize":{"condition":{"test":"abs(datum.value*10-round(datum.value*10))<0.001","value":4},"value":-4}}}
 },
 "layer":[
  {"data":{"values":[{"x":0,"y":0,"x2":0.35,"y2":1.05},{"x":0,"y":0,"x2":1.05,"y2":1.05},{"x":0,"y":0,"x2":1.05,"y2":0.35}]},"mark":{"type":"rule","color":"#888","strokeDash":[2,2],"strokeWidth":1},"encoding":{"x2":{"field":"x2"},"y2":{"field":"y2"}}},
  {"mark":{"type":"point","filled":true,"opacity":1,"size":28},"encoding":{
   "color":{"field":"g","type":"nominal","scale":{"domain":["No Call(0)","G(57)","GT(169)","T(156)"],"range":["#f25a5a","#35c6f4","#62f08e","#f7a24c"]},"legend":{"title":null}},
   "shape":{"field":"g","type":"nominal","scale":{"domain":["No Call(0)","G(57)","GT(169)","T(156)"],"range":["circle","triangle-up","square","triangle-down"]},"legend":{"title":null}}}},
  {"data":{"values":[{"x":0.04,"y":0.84}]},"mark":{"type":"point","shape":"circle","filled":false,"color":"#222","size":45,"strokeWidth":1}}
 ]},
{"width":277,"height":250,"title":"rs12415607",
 "data":{"values":[
{"g":"A(74)","x":0.02,"y":0.92},{"g":"A(74)","x":0.025,"y":0.92},{"g":"A(74)","x":0,"y":0.89},{"g":"A(74)","x":0.01,"y":0.885},{"g":"A(74)","x":0.02,"y":0.875},{"g":"A(74)","x":0.03,"y":0.865},{"g":"A(74)","x":0,"y":0.86},{"g":"A(74)","x":0.01,"y":0.85},{"g":"A(74)","x":0,"y":0.815},{"g":"A(74)","x":0.04,"y":0.82},{"g":"A(74)","x":0.03,"y":0.81},{"g":"A(74)","x":0.05,"y":0.77},{"g":"A(74)","x":0.06,"y":0.76},{"g":"A(74)","x":0.035,"y":0.78},
{"g":"A(74)","x":0,"y":0.8},{"g":"A(74)","x":0.01,"y":0.8},{"g":"A(74)","x":0.02,"y":0.8},{"g":"A(74)","x":0,"y":0.79},{"g":"A(74)","x":0.01,"y":0.79},{"g":"A(74)","x":0.03,"y":0.79},{"g":"A(74)","x":0,"y":0.78},{"g":"A(74)","x":0.02,"y":0.78},{"g":"A(74)","x":0.04,"y":0.78},{"g":"A(74)","x":0.01,"y":0.77},{"g":"A(74)","x":0.02,"y":0.77},{"g":"A(74)","x":0.03,"y":0.77},{"g":"A(74)","x":0,"y":0.76},{"g":"A(74)","x":0.01,"y":0.76},{"g":"A(74)","x":0.025,"y":0.76},{"g":"A(74)","x":0.04,"y":0.76},{"g":"A(74)","x":0,"y":0.75},{"g":"A(74)","x":0.02,"y":0.75},{"g":"A(74)","x":0.03,"y":0.75},{"g":"A(74)","x":0.005,"y":0.74},{"g":"A(74)","x":0.015,"y":0.74},{"g":"A(74)","x":0.035,"y":0.74},{"g":"A(74)","x":0,"y":0.73},{"g":"A(74)","x":0.02,"y":0.73},{"g":"A(74)","x":0.03,"y":0.73},{"g":"A(74)","x":0.01,"y":0.72},{"g":"A(74)","x":0.02,"y":0.72},{"g":"A(74)","x":0.04,"y":0.72},{"g":"A(74)","x":0,"y":0.71},{"g":"A(74)","x":0.015,"y":0.71},{"g":"A(74)","x":0.03,"y":0.71},{"g":"A(74)","x":0,"y":0.7},{"g":"A(74)","x":0.01,"y":0.7},{"g":"A(74)","x":0.02,"y":0.7},{"g":"A(74)","x":0.035,"y":0.7},{"g":"A(74)","x":0,"y":0.69},{"g":"A(74)","x":0.02,"y":0.69},{"g":"A(74)","x":0.01,"y":0.68},{"g":"A(74)","x":0.04,"y":0.68},
{"g":"A(74)","x":0.055,"y":0.67},{"g":"A(74)","x":0,"y":0.64},{"g":"A(74)","x":0.01,"y":0.635},{"g":"A(74)","x":0.02,"y":0.635},{"g":"A(74)","x":0.02,"y":0.58},{"g":"A(74)","x":0.03,"y":0.6},{"g":"A(74)","x":0,"y":0.535},{"g":"A(74)","x":0.125,"y":0.6},
{"g":"No Call(1)","x":0.225,"y":0.618},
{"g":"CA(182)","x":0.3,"y":0.545},{"g":"CA(182)","x":0.32,"y":0.54},{"g":"CA(182)","x":0.31,"y":0.48},{"g":"CA(182)","x":0.45,"y":0.545},{"g":"CA(182)","x":0.42,"y":0.515},{"g":"CA(182)","x":0.49,"y":0.51},{"g":"CA(182)","x":0.5,"y":0.495},{"g":"CA(182)","x":0.39,"y":0.48},{"g":"CA(182)","x":0.41,"y":0.47},{"g":"CA(182)","x":0.43,"y":0.47},{"g":"CA(182)","x":0.35,"y":0.43},{"g":"CA(182)","x":0.38,"y":0.41},{"g":"CA(182)","x":0.35,"y":0.38},{"g":"CA(182)","x":0.345,"y":0.35},{"g":"CA(182)","x":0.36,"y":0.36},{"g":"CA(182)","x":0.38,"y":0.295},{"g":"CA(182)","x":0.39,"y":0.32},{"g":"CA(182)","x":0.41,"y":0.33},{"g":"CA(182)","x":0.43,"y":0.33},{"g":"CA(182)","x":0.46,"y":0.31},{"g":"CA(182)","x":0.54,"y":0.355},{"g":"CA(182)","x":0.53,"y":0.36},
{"g":"CA(182)","x":0.44,"y":0.45},{"g":"CA(182)","x":0.47,"y":0.45},{"g":"CA(182)","x":0.43,"y":0.44},{"g":"CA(182)","x":0.45,"y":0.44},{"g":"CA(182)","x":0.46,"y":0.44},{"g":"CA(182)","x":0.48,"y":0.44},{"g":"CA(182)","x":0.41,"y":0.43},{"g":"CA(182)","x":0.44,"y":0.43},{"g":"CA(182)","x":0.47,"y":0.43},{"g":"CA(182)","x":0.49,"y":0.43},{"g":"CA(182)","x":0.4,"y":0.42},{"g":"CA(182)","x":0.42,"y":0.42},{"g":"CA(182)","x":0.45,"y":0.42},{"g":"CA(182)","x":0.48,"y":0.42},{"g":"CA(182)","x":0.41,"y":0.41},{"g":"CA(182)","x":0.43,"y":0.41},{"g":"CA(182)","x":0.46,"y":0.41},{"g":"CA(182)","x":0.47,"y":0.41},{"g":"CA(182)","x":0.5,"y":0.41},{"g":"CA(182)","x":0.39,"y":0.4},{"g":"CA(182)","x":0.42,"y":0.4},{"g":"CA(182)","x":0.44,"y":0.4},{"g":"CA(182)","x":0.45,"y":0.4},{"g":"CA(182)","x":0.48,"y":0.4},{"g":"CA(182)","x":0.51,"y":0.4},{"g":"CA(182)","x":0.4,"y":0.39},{"g":"CA(182)","x":0.43,"y":0.39},{"g":"CA(182)","x":0.46,"y":0.39},{"g":"CA(182)","x":0.49,"y":0.39},{"g":"CA(182)","x":0.5,"y":0.39},{"g":"CA(182)","x":0.41,"y":0.38},{"g":"CA(182)","x":0.42,"y":0.38},{"g":"CA(182)","x":0.44,"y":0.38},{"g":"CA(182)","x":0.47,"y":0.38},{"g":"CA(182)","x":0.48,"y":0.38},{"g":"CA(182)","x":0.52,"y":0.38},{"g":"CA(182)","x":0.39,"y":0.37},{"g":"CA(182)","x":0.43,"y":0.37},{"g":"CA(182)","x":0.45,"y":0.37},{"g":"CA(182)","x":0.46,"y":0.37},{"g":"CA(182)","x":0.49,"y":0.37},{"g":"CA(182)","x":0.4,"y":0.36},{"g":"CA(182)","x":0.42,"y":0.36},{"g":"CA(182)","x":0.44,"y":0.36},{"g":"CA(182)","x":0.47,"y":0.36},{"g":"CA(182)","x":0.5,"y":0.36},{"g":"CA(182)","x":0.38,"y":0.35},{"g":"CA(182)","x":0.41,"y":0.35},{"g":"CA(182)","x":0.43,"y":0.35},{"g":"CA(182)","x":0.45,"y":0.35},{"g":"CA(182)","x":0.48,"y":0.35},{"g":"CA(182)","x":0.4,"y":0.34},{"g":"CA(182)","x":0.44,"y":0.34},{"g":"CA(182)","x":0.46,"y":0.34},{"g":"CA(182)","x":0.42,"y":0.33},{"g":"CA(182)","x":0.47,"y":0.33},
{"g":"C(125)","x":0.43,"y":0.03},{"g":"C(125)","x":0.52,"y":0.045},{"g":"C(125)","x":0.53,"y":0.035},{"g":"C(125)","x":0.54,"y":0.05},{"g":"C(125)","x":0.65,"y":0.1},{"g":"C(125)","x":0.75,"y":0.055},{"g":"C(125)","x":0.77,"y":0.035},{"g":"C(125)","x":0.71,"y":0.045},{"g":"C(125)","x":0.7,"y":0},{"g":"C(125)","x":0.69,"y":0.005},
{"g":"C(125)","x":0.61,"y":0.08},{"g":"C(125)","x":0.64,"y":0.08},{"g":"C(125)","x":0.66,"y":0.08},{"g":"C(125)","x":0.58,"y":0.07},{"g":"C(125)","x":0.6,"y":0.07},{"g":"C(125)","x":0.62,"y":0.07},{"g":"C(125)","x":0.65,"y":0.07},{"g":"C(125)","x":0.67,"y":0.07},{"g":"C(125)","x":0.57,"y":0.06},{"g":"C(125)","x":0.59,"y":0.06},{"g":"C(125)","x":0.61,"y":0.06},{"g":"C(125)","x":0.63,"y":0.06},{"g":"C(125)","x":0.64,"y":0.06},{"g":"C(125)","x":0.66,"y":0.06},{"g":"C(125)","x":0.68,"y":0.06},{"g":"C(125)","x":0.56,"y":0.05},{"g":"C(125)","x":0.58,"y":0.05},{"g":"C(125)","x":0.6,"y":0.05},{"g":"C(125)","x":0.62,"y":0.05},{"g":"C(125)","x":0.64,"y":0.05},{"g":"C(125)","x":0.66,"y":0.05},{"g":"C(125)","x":0.68,"y":0.05},{"g":"C(125)","x":0.7,"y":0.05},{"g":"C(125)","x":0.57,"y":0.04},{"g":"C(125)","x":0.59,"y":0.04},{"g":"C(125)","x":0.61,"y":0.04},{"g":"C(125)","x":0.63,"y":0.04},{"g":"C(125)","x":0.65,"y":0.04},{"g":"C(125)","x":0.67,"y":0.04},{"g":"C(125)","x":0.69,"y":0.04},{"g":"C(125)","x":0.56,"y":0.03},{"g":"C(125)","x":0.58,"y":0.03},{"g":"C(125)","x":0.6,"y":0.03},{"g":"C(125)","x":0.62,"y":0.03},{"g":"C(125)","x":0.64,"y":0.03},{"g":"C(125)","x":0.66,"y":0.03},{"g":"C(125)","x":0.68,"y":0.03},{"g":"C(125)","x":0.57,"y":0.02},{"g":"C(125)","x":0.59,"y":0.02},{"g":"C(125)","x":0.61,"y":0.02},{"g":"C(125)","x":0.63,"y":0.02},{"g":"C(125)","x":0.65,"y":0.02},{"g":"C(125)","x":0.67,"y":0.02},{"g":"C(125)","x":0.59,"y":0.01},{"g":"C(125)","x":0.61,"y":0.01},{"g":"C(125)","x":0.63,"y":0.01},{"g":"C(125)","x":0.66,"y":0.01},{"g":"C(125)","x":0.6,"y":0},{"g":"C(125)","x":0.62,"y":0},{"g":"C(125)","x":0.64,"y":0},{"g":"C(125)","x":0.67,"y":0},
{"g":"Other(1)","x":0.715,"y":0.03}
 ]},
 "encoding":{
  "x":{"field":"x","type":"quantitative","scale":{"domain":[-0.05,1.05],"nice":false,"zero":false},"axis":{"title":"Low Mass Allele","values":[0,0.05,0.1,0.15,0.2,0.25,0.3,0.35,0.4,0.45,0.5,0.55,0.6,0.65,0.7,0.75,0.8,0.85,0.9,0.95,1],"labelExpr":"abs(datum.value*5-round(datum.value*5))<0.001 ? format(datum.value,'.1f') : ''","tickColor":{"condition":{"test":"abs(datum.value*5-round(datum.value*5))<0.001","value":"#333"},"value":"#777"}}},
  "y":{"field":"y","type":"quantitative","scale":{"domain":[-0.05,1.05],"nice":false,"zero":false},"axis":{"title":"High Mass Allele","values":[-0.04,-0.02,0,0.02,0.04,0.06,0.08,0.1,0.12,0.14,0.16,0.18,0.2,0.22,0.24,0.26,0.28,0.3,0.32,0.34,0.36,0.38,0.4,0.42,0.44,0.46,0.48,0.5,0.52,0.54,0.56,0.58,0.6,0.62,0.64,0.66,0.68,0.7,0.72,0.74,0.76,0.78,0.8,0.82,0.84,0.86,0.88,0.9,0.92,0.94,0.96,0.98,1,1.02,1.04],"labelExpr":"abs(datum.value*10-round(datum.value*10))<0.001 ? format(datum.value,'.1f') : ''","tickColor":{"condition":{"test":"abs(datum.value*10-round(datum.value*10))<0.001","value":"#333"},"value":"#bbb"},"tickSize":{"condition":{"test":"abs(datum.value*10-round(datum.value*10))<0.001","value":4},"value":-4}}}
 },
 "layer":[
  {"data":{"values":[{"x":0,"y":0,"x2":0.35,"y2":1.05},{"x":0,"y":0,"x2":1.05,"y2":1.05},{"x":0,"y":0,"x2":1.05,"y2":0.35}]},"mark":{"type":"rule","color":"#888","strokeDash":[2,2],"strokeWidth":1},"encoding":{"x2":{"field":"x2"},"y2":{"field":"y2"}}},
  {"mark":{"type":"point","filled":true,"opacity":1,"size":28},"encoding":{
   "color":{"field":"g","type":"nominal","scale":{"domain":["No Call(1)","C(125)","CA(182)","A(74)","Other(1)"],"range":["#f25a5a","#35c6f4","#62f08e","#f7a24c","#444"]},"legend":{"title":null,"columns":4,"rowPadding":-3}},
   "shape":{"field":"g","type":"nominal","scale":{"domain":["No Call(1)","C(125)","CA(182)","A(74)","Other(1)"],"range":["circle","triangle-up","square","triangle-down","M-0.15,-0.15L0.15,-0.15L0.15,0.15L-0.15,0.15Z"]},"legend":{"title":null,"columns":4,"rowPadding":-3}}}},
  {"data":{"values":[{"x":0.71,"y":0.03}]},"mark":{"type":"point","shape":"circle","filled":false,"color":"#222","size":45,"strokeWidth":1}}
 ]},
{"width":282,"height":283,"title":"rs4353229",
 "data":{"values":[
{"g":"T(132)","x":0.04,"y":0.965},{"g":"T(132)","x":0.07,"y":0.94},{"g":"T(132)","x":0,"y":0.95},{"g":"T(132)","x":0.01,"y":0.945},{"g":"T(132)","x":0.1,"y":0.84},{"g":"T(132)","x":0.09,"y":0.82},{"g":"T(132)","x":0.07,"y":0.79},{"g":"T(132)","x":0.05,"y":0.8},{"g":"T(132)","x":0.03,"y":0.785},{"g":"T(132)","x":0.02,"y":0.78},{"g":"T(132)","x":0.025,"y":0.77},{"g":"T(132)","x":0.03,"y":0.74},{"g":"T(132)","x":0.035,"y":0.72},{"g":"T(132)","x":0.08,"y":0.86},
{"g":"T(132)","x":0,"y":0.93},{"g":"T(132)","x":0.01,"y":0.93},{"g":"T(132)","x":0.02,"y":0.93},{"g":"T(132)","x":0,"y":0.92},{"g":"T(132)","x":0.015,"y":0.92},{"g":"T(132)","x":0.03,"y":0.92},{"g":"T(132)","x":0.05,"y":0.92},{"g":"T(132)","x":0,"y":0.91},{"g":"T(132)","x":0.01,"y":0.91},{"g":"T(132)","x":0.02,"y":0.91},{"g":"T(132)","x":0.03,"y":0.91},{"g":"T(132)","x":0.04,"y":0.91},{"g":"T(132)","x":0.06,"y":0.91},{"g":"T(132)","x":0.005,"y":0.9},{"g":"T(132)","x":0.02,"y":0.9},{"g":"T(132)","x":0.035,"y":0.9},{"g":"T(132)","x":0.05,"y":0.9},{"g":"T(132)","x":0.065,"y":0.9},{"g":"T(132)","x":0,"y":0.89},{"g":"T(132)","x":0.01,"y":0.89},{"g":"T(132)","x":0.025,"y":0.89},{"g":"T(132)","x":0.04,"y":0.89},{"g":"T(132)","x":0.055,"y":0.89},{"g":"T(132)","x":0,"y":0.88},{"g":"T(132)","x":0.015,"y":0.88},{"g":"T(132)","x":0.03,"y":0.88},{"g":"T(132)","x":0.045,"y":0.88},{"g":"T(132)","x":0.06,"y":0.88},{"g":"T(132)","x":0.075,"y":0.88},{"g":"T(132)","x":0.005,"y":0.87},{"g":"T(132)","x":0.02,"y":0.87},{"g":"T(132)","x":0.035,"y":0.87},{"g":"T(132)","x":0.05,"y":0.87},{"g":"T(132)","x":0.065,"y":0.87},{"g":"T(132)","x":0,"y":0.86},{"g":"T(132)","x":0.01,"y":0.86},{"g":"T(132)","x":0.025,"y":0.86},{"g":"T(132)","x":0.04,"y":0.86},{"g":"T(132)","x":0.055,"y":0.86},{"g":"T(132)","x":0.07,"y":0.86},{"g":"T(132)","x":0,"y":0.85},{"g":"T(132)","x":0.015,"y":0.85},{"g":"T(132)","x":0.03,"y":0.85},{"g":"T(132)","x":0.045,"y":0.85},{"g":"T(132)","x":0.06,"y":0.85},{"g":"T(132)","x":0.08,"y":0.85},{"g":"T(132)","x":0.005,"y":0.84},{"g":"T(132)","x":0.02,"y":0.84},{"g":"T(132)","x":0.035,"y":0.84},{"g":"T(132)","x":0.05,"y":0.84},{"g":"T(132)","x":0.065,"y":0.84},{"g":"T(132)","x":0.01,"y":0.83},{"g":"T(132)","x":0.025,"y":0.83},{"g":"T(132)","x":0.04,"y":0.83},{"g":"T(132)","x":0.055,"y":0.83},{"g":"T(132)","x":0.02,"y":0.82},{"g":"T(132)","x":0.035,"y":0.82},{"g":"T(132)","x":0.05,"y":0.82},{"g":"T(132)","x":0.03,"y":0.81},{"g":"T(132)","x":0.045,"y":0.81},
{"g":"CT(182)","x":0.37,"y":0.54},{"g":"CT(182)","x":0.38,"y":0.545},{"g":"CT(182)","x":0.39,"y":0.54},{"g":"CT(182)","x":0.36,"y":0.52},{"g":"CT(182)","x":0.37,"y":0.52},{"g":"CT(182)","x":0.45,"y":0.565},{"g":"CT(182)","x":0.46,"y":0.565},{"g":"CT(182)","x":0.48,"y":0.53},{"g":"CT(182)","x":0.49,"y":0.52},{"g":"CT(182)","x":0.5,"y":0.51},{"g":"CT(182)","x":0.51,"y":0.5},{"g":"CT(182)","x":0.52,"y":0.47},{"g":"CT(182)","x":0.53,"y":0.46},{"g":"CT(182)","x":0.54,"y":0.45},{"g":"CT(182)","x":0.56,"y":0.435},{"g":"CT(182)","x":0.55,"y":0.43},{"g":"CT(182)","x":0.5,"y":0.4},{"g":"CT(182)","x":0.49,"y":0.395},{"g":"CT(182)","x":0.46,"y":0.4},{"g":"CT(182)","x":0.45,"y":0.41},
{"g":"CT(182)","x":0.38,"y":0.53},{"g":"CT(182)","x":0.39,"y":0.53},{"g":"CT(182)","x":0.4,"y":0.53},{"g":"CT(182)","x":0.41,"y":0.53},{"g":"CT(182)","x":0.39,"y":0.52},{"g":"CT(182)","x":0.4,"y":0.52},{"g":"CT(182)","x":0.41,"y":0.52},{"g":"CT(182)","x":0.42,"y":0.52},{"g":"CT(182)","x":0.39,"y":0.51},{"g":"CT(182)","x":0.4,"y":0.51},{"g":"CT(182)","x":0.41,"y":0.51},{"g":"CT(182)","x":0.42,"y":0.51},{"g":"CT(182)","x":0.43,"y":0.51},{"g":"CT(182)","x":0.39,"y":0.5},{"g":"CT(182)","x":0.41,"y":0.5},{"g":"CT(182)","x":0.42,"y":0.5},{"g":"CT(182)","x":0.43,"y":0.5},{"g":"CT(182)","x":0.44,"y":0.5},{"g":"CT(182)","x":0.4,"y":0.49},{"g":"CT(182)","x":0.41,"y":0.49},{"g":"CT(182)","x":0.42,"y":0.49},{"g":"CT(182)","x":0.43,"y":0.49},{"g":"CT(182)","x":0.44,"y":0.49},{"g":"CT(182)","x":0.45,"y":0.49},{"g":"CT(182)","x":0.41,"y":0.48},{"g":"CT(182)","x":0.42,"y":0.48},{"g":"CT(182)","x":0.43,"y":0.48},{"g":"CT(182)","x":0.44,"y":0.48},{"g":"CT(182)","x":0.45,"y":0.48},{"g":"CT(182)","x":0.46,"y":0.48},{"g":"CT(182)","x":0.41,"y":0.47},{"g":"CT(182)","x":0.43,"y":0.47},{"g":"CT(182)","x":0.44,"y":0.47},{"g":"CT(182)","x":0.45,"y":0.47},{"g":"CT(182)","x":0.46,"y":0.47},{"g":"CT(182)","x":0.47,"y":0.47},{"g":"CT(182)","x":0.42,"y":0.46},{"g":"CT(182)","x":0.43,"y":0.46},{"g":"CT(182)","x":0.44,"y":0.46},{"g":"CT(182)","x":0.46,"y":0.46},{"g":"CT(182)","x":0.47,"y":0.46},{"g":"CT(182)","x":0.48,"y":0.46},{"g":"CT(182)","x":0.43,"y":0.45},{"g":"CT(182)","x":0.45,"y":0.45},{"g":"CT(182)","x":0.46,"y":0.45},{"g":"CT(182)","x":0.47,"y":0.45},{"g":"CT(182)","x":0.48,"y":0.45},{"g":"CT(182)","x":0.5,"y":0.45},{"g":"CT(182)","x":0.44,"y":0.44},{"g":"CT(182)","x":0.45,"y":0.44},{"g":"CT(182)","x":0.47,"y":0.44},{"g":"CT(182)","x":0.48,"y":0.44},{"g":"CT(182)","x":0.49,"y":0.44},{"g":"CT(182)","x":0.51,"y":0.44},{"g":"CT(182)","x":0.45,"y":0.43},{"g":"CT(182)","x":0.46,"y":0.43},{"g":"CT(182)","x":0.48,"y":0.43},{"g":"CT(182)","x":0.5,"y":0.43},{"g":"CT(182)","x":0.52,"y":0.43},{"g":"CT(182)","x":0.46,"y":0.42},{"g":"CT(182)","x":0.47,"y":0.42},{"g":"CT(182)","x":0.49,"y":0.42},{"g":"CT(182)","x":0.51,"y":0.42},{"g":"CT(182)","x":0.47,"y":0.41},{"g":"CT(182)","x":0.48,"y":0.41},{"g":"CT(182)","x":0.5,"y":0.41},
{"g":"C(68)","x":0.685,"y":0.025},{"g":"C(68)","x":0.69,"y":0.015},{"g":"C(68)","x":0.68,"y":0},{"g":"C(68)","x":0.7,"y":0},{"g":"C(68)","x":0.71,"y":0.005},{"g":"C(68)","x":0.72,"y":0},{"g":"C(68)","x":0.73,"y":0.005},{"g":"C(68)","x":0.74,"y":0},{"g":"C(68)","x":0.75,"y":0},{"g":"C(68)","x":0.76,"y":0},{"g":"C(68)","x":0.785,"y":0.015},{"g":"C(68)","x":0.79,"y":0},{"g":"C(68)","x":0.8,"y":0.005},{"g":"C(68)","x":0.81,"y":0},{"g":"C(68)","x":0.82,"y":0},{"g":"C(68)","x":0.83,"y":0},{"g":"C(68)","x":0.845,"y":0.025},{"g":"C(68)","x":0.85,"y":0.005},{"g":"C(68)","x":0.86,"y":0},{"g":"C(68)","x":0.865,"y":0.01},{"g":"C(68)","x":0.87,"y":0.005},{"g":"C(68)","x":0.88,"y":0},{"g":"C(68)","x":0.89,"y":0},{"g":"C(68)","x":0.9,"y":0},{"g":"C(68)","x":0.91,"y":0},{"g":"C(68)","x":0.92,"y":0},{"g":"C(68)","x":0.93,"y":0},{"g":"C(68)","x":0.94,"y":0},{"g":"C(68)","x":0.95,"y":0},{"g":"C(68)","x":0.84,"y":0},{"g":"C(68)","x":0.875,"y":0.01},{"g":"C(68)","x":0.805,"y":0}
 ]},
 "encoding":{
  "x":{"field":"x","type":"quantitative","scale":{"domain":[-0.05,1.05],"nice":false,"zero":false},"axis":{"title":"Low Mass Allele","values":[0,0.05,0.1,0.15,0.2,0.25,0.3,0.35,0.4,0.45,0.5,0.55,0.6,0.65,0.7,0.75,0.8,0.85,0.9,0.95,1],"labelExpr":"abs(datum.value*5-round(datum.value*5))<0.001 ? format(datum.value,'.1f') : ''","tickColor":{"condition":{"test":"abs(datum.value*5-round(datum.value*5))<0.001","value":"#333"},"value":"#777"}}},
  "y":{"field":"y","type":"quantitative","scale":{"domain":[-0.05,1.05],"nice":false,"zero":false},"axis":{"title":"High Mass Allele","values":[-0.04,-0.02,0,0.02,0.04,0.06,0.08,0.1,0.12,0.14,0.16,0.18,0.2,0.22,0.24,0.26,0.28,0.3,0.32,0.34,0.36,0.38,0.4,0.42,0.44,0.46,0.48,0.5,0.52,0.54,0.56,0.58,0.6,0.62,0.64,0.66,0.68,0.7,0.72,0.74,0.76,0.78,0.8,0.82,0.84,0.86,0.88,0.9,0.92,0.94,0.96,0.98,1,1.02,1.04],"labelExpr":"abs(datum.value*10-round(datum.value*10))<0.001 ? format(datum.value,'.1f') : ''","tickColor":{"condition":{"test":"abs(datum.value*10-round(datum.value*10))<0.001","value":"#333"},"value":"#bbb"},"tickSize":{"condition":{"test":"abs(datum.value*10-round(datum.value*10))<0.001","value":4},"value":-4}}}
 },
 "layer":[
  {"data":{"values":[{"x":0,"y":0,"x2":0.35,"y2":1.05},{"x":0,"y":0,"x2":1.05,"y2":1.05},{"x":0,"y":0,"x2":1.05,"y2":0.35}]},"mark":{"type":"rule","color":"#888","strokeDash":[2,2],"strokeWidth":1},"encoding":{"x2":{"field":"x2"},"y2":{"field":"y2"}}},
  {"mark":{"type":"point","filled":true,"opacity":1,"size":28},"encoding":{
   "color":{"field":"g","type":"nominal","scale":{"domain":["No Call(0)","C(68)","CT(182)","T(132)"],"range":["#f25a5a","#35c6f4","#62f08e","#f7a24c"]},"legend":{"title":null}},
   "shape":{"field":"g","type":"nominal","scale":{"domain":["No Call(0)","C(68)","CT(182)","T(132)"],"range":["circle","triangle-up","square","triangle-down"]},"legend":{"title":null}}}},
  {"data":{"values":[{"x":0.065,"y":0.86}]},"mark":{"type":"point","shape":"circle","filled":false,"color":"#222","size":45,"strokeWidth":1}}
 ]}
]}
]
}
